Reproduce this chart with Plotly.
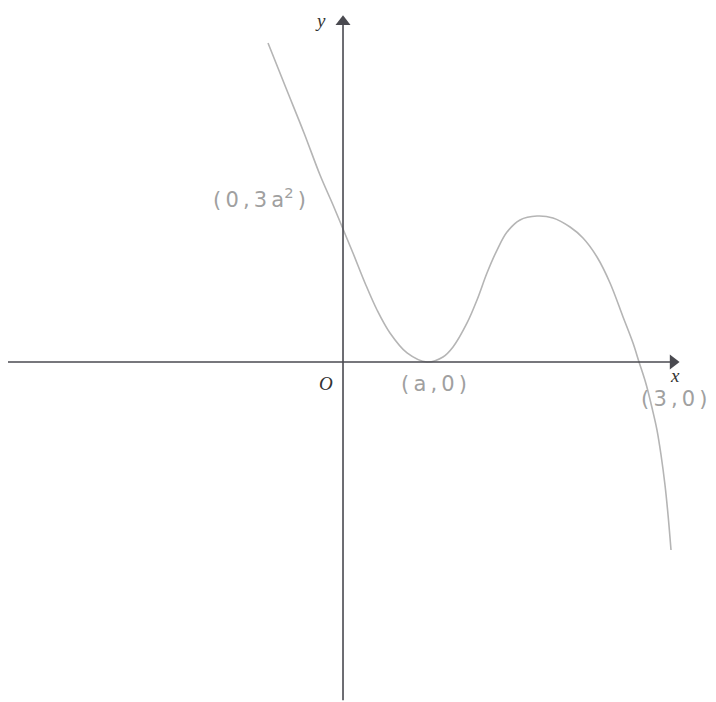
import plotly.graph_objects as go

# Curve points (x, y in axis units; x-intercept at 3, touches at a)
curve_x = [-0.760, -0.578, -0.395, -0.233, -0.101, 0.0, 0.101, 0.223, 0.345, 0.476,
           0.649, 0.851, 1.013, 1.115, 1.257, 1.358, 1.459, 1.561, 1.662, 1.794,
           1.966, 2.128, 2.301, 2.432, 2.574, 2.706, 2.838, 2.939, 3.0, 3.071,
           3.132, 3.182, 3.223, 3.263, 3.294, 3.324]
curve_y = [3.245, 2.787, 2.330, 1.902, 1.597, 1.353, 1.109, 0.804, 0.529, 0.295,
           0.092, 0.0, 0.051, 0.153, 0.397, 0.631, 0.905, 1.139, 1.322, 1.445,
           1.485, 1.465, 1.373, 1.261, 1.068, 0.804, 0.458, 0.193, 0.0, -0.224,
           -0.468, -0.692, -0.946, -1.251, -1.556, -1.913]

T = "\u2009"
point_labels = [f"({T}0{T},{T}3{T}a<sup>2</sup>{T})", f"({T}a{T},{T}0{T})", f"({T}3{T},{T}0{T})"]
point_label_x = [-0.851, 0.922, 3.355]
point_label_y = [1.668, -0.224, -0.376]

# Ranges (axis units) chosen so the page's own 8 px body margin is absorbed
XMIN, XMAX = -3.395, 3.861
YMIN, YMAX = -3.540, 3.601

axis_col = "#4a4a50"
fig = go.Figure()

# axes lines
fig.add_shape(type="line", x0=-3.426, x1=3.345, y0=0, y1=0, line=dict(color=axis_col, width=1.6))
fig.add_shape(type="line", x0=0, x1=0, y0=-3.44, y1=3.45, line=dict(color=axis_col, width=1.6))

# arrow heads
fig.add_trace(go.Scatter(x=[3.345], y=[0], mode="markers",
                         marker=dict(symbol="triangle-right", size=13, color=axis_col),
                         hoverinfo="skip", showlegend=False))
fig.add_trace(go.Scatter(x=[0], y=[3.46], mode="markers",
                         marker=dict(symbol="triangle-up", size=13, color=axis_col),
                         hoverinfo="skip", showlegend=False))

# curve
fig.add_trace(go.Scatter(x=curve_x, y=curve_y, mode="lines",
                         line=dict(color="#b5b5b5", width=1.6, shape="spline", smoothing=1.0),
                         hoverinfo="skip", showlegend=False))

# axis letters
serif = "Liberation Serif"
for txt, ax_, ay_ in [("<i>y</i>", -0.233, 3.47), ("<i>x</i>", 3.365, -0.140), ("<i>O</i>", -0.172, -0.214)]:
    fig.add_annotation(x=ax_, y=ay_, text=txt, showarrow=False,
                       font=dict(family=serif, size=19, color="#333333"))

for txt, px, py in zip(point_labels, point_label_x, point_label_y):
    fig.add_annotation(x=px, y=py, text=txt, showarrow=False,
                       font=dict(family="DejaVu Sans", size=21, color="#a0a0a0"))

fig.update_layout(
    width=716, height=702, margin=dict(l=0, r=0, t=0, b=0),
    paper_bgcolor="#ffffff", plot_bgcolor="#ffffff",
    xaxis=dict(range=[XMIN, XMAX], visible=False, fixedrange=True),
    yaxis=dict(range=[YMIN, YMAX], visible=False, fixedrange=True),
)

fig.write_html("out.html")
